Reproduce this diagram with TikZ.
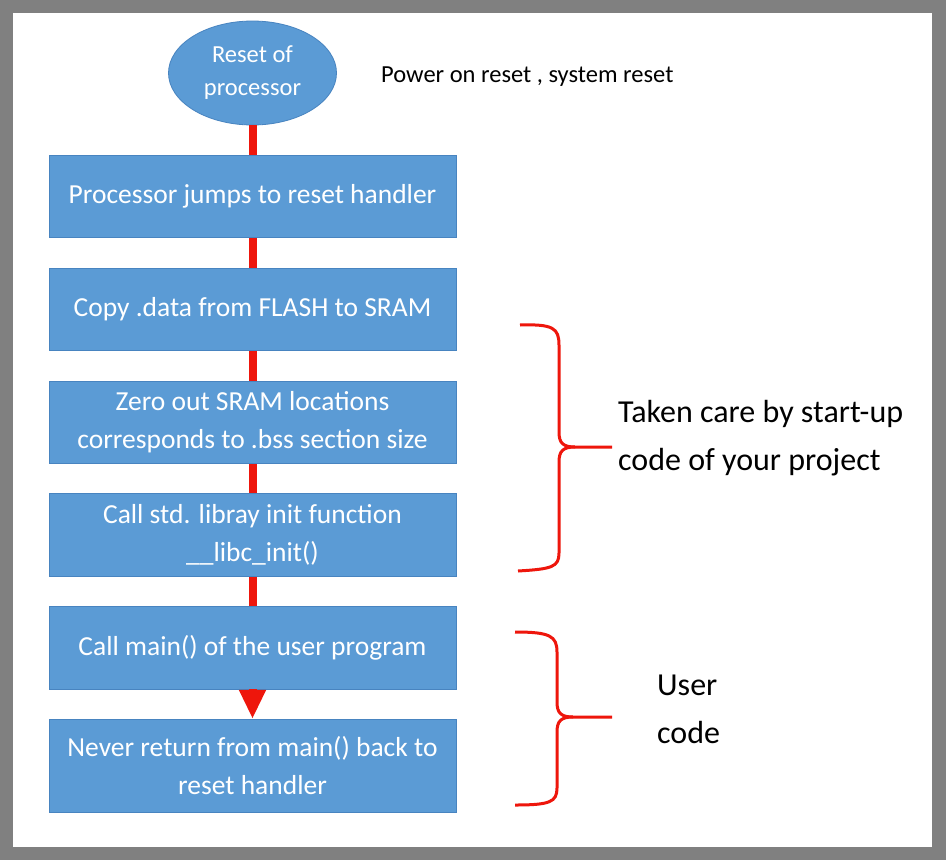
\documentclass[tikz,border=0pt]{standalone}
\usepackage{fontspec}
\setmainfont{Carlito}
\usetikzlibrary{positioning,shapes.geometric,arrows.meta}
\definecolor{boxblue}{RGB}{91,155,213}
\definecolor{boxedge}{RGB}{72,132,192}
\definecolor{linkred}{RGB}{238,22,12}
\definecolor{framegray}{RGB}{128,128,128}

\begin{document}
\begin{tikzpicture}[x=1pt,y=1pt,
	stepbox/.style={rectangle, fill=boxblue, draw=boxedge, line width=0.8pt,
		minimum width=407pt, minimum height=82.5pt, inner sep=2pt,
		align=center, text=white, font=\fontsize{27.5}{38}\selectfont},
	startnode/.style={ellipse, fill=boxblue, draw=boxedge, line width=0.8pt,
		minimum width=168pt, minimum height=104pt, inner sep=0pt,
		align=center, text=white, font=\fontsize{24.5}{33}\selectfont},
	link/.style={draw=linkred, line width=8pt},
	bracket/.style={draw=linkred, line width=3pt, line join=round},
	note/.style={inner sep=0pt, align=left, font=\fontsize{32}{48}\selectfont},
	node distance=29.5pt]

	% frame
	\fill[framegray] (0,0) rectangle (946,-860);
	\fill[white] (13,-13) rectangle (932,-847);
	\useasboundingbox (0,0) rectangle (946,-860);

	\node[startnode] (reset) at (252.5,-73) {Reset of\\processor};
	\node[stepbox, below=29.5pt of reset] (jump) {Processor jumps to reset handler};
	\node[stepbox, below=of jump] (copy) {Copy .data from FLASH to SRAM};
	\node[stepbox, below=of copy] (zero) {Zero out SRAM locations\\corresponds to .bss section size};
	\node[stepbox, below=of zero] (libc) {Call std. libray init function\\\_\_libc\_init()};
	\node[stepbox, below=of libc] (main) {Call main() of the user program};
	\node[stepbox, below=of main, minimum height=93pt] (never) {Never return from main() back to\\reset handler};

	\draw[link] (reset) -- (jump);
	\draw[link] (jump) -- (copy);
	\draw[link] (copy) -- (zero);
	\draw[link] (zero) -- (libc);
	\draw[link] (libc) -- (main);
	\draw[link, -{Triangle[length=29pt,width=25pt]}] (main) -- (never);

	% notes
	\node[note, anchor=base west, font=\fontsize{24.5}{30}\selectfont] (power) at (381,-82) {Power on reset , system reset};
	\node[note, anchor=west] (startup) at (618,-438.5) {Taken care by start-up\\code of your project};
	\node[note, anchor=west] (user) at (657,-709.5) {User\\code};

	% braces
	\draw[bracket] (520,-325) .. controls (553,-324) and (559,-328) .. (559,-345) -- (559,-432)
		.. controls (559,-443) and (563,-447) .. (575,-447) -- (612,-447);
	\draw[bracket] (575,-447) .. controls (563,-447) and (559,-451) .. (559,-462) -- (559,-553)
		.. controls (559,-567) and (552,-569) .. (518,-571);
	\draw[bracket] (515,-632) .. controls (550,-632) and (557,-636) .. (557,-652) -- (557,-702)
		.. controls (557,-713) and (561,-717) .. (573,-717) -- (612,-717);
	\draw[bracket] (573,-717) .. controls (561,-717) and (557,-721) .. (557,-732) -- (557,-788)
		.. controls (557,-802) and (550,-805) .. (515,-805);
\end{tikzpicture}
\end{document}
